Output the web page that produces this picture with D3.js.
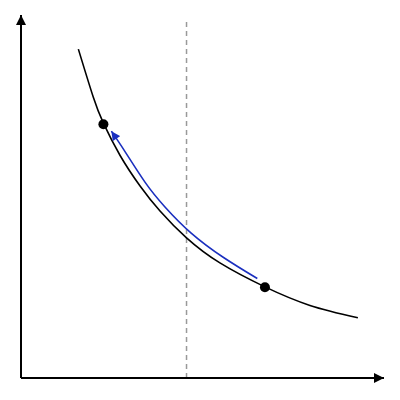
<!DOCTYPE html>
<html><head><meta charset="utf-8">
<script src="https://cdn.jsdelivr.net/npm/d3@7"></script>
<style>html,body{margin:0;padding:0;background:#fff;}</style>
</head><body>
<svg id="c" width="400" height="400"></svg>
<script>
// Curve (axis units 0..10)
const curveX = [1.58, 1.99, 2.27, 2.73, 3.28, 3.83, 4.56, 5.48, 6.72, 7.96, 9.28];
const curveY = [9.06, 7.74, 7.02, 6.13, 5.29, 4.60, 3.86, 3.17, 2.51, 2.00, 1.66];
// Blue movement arrow (from lower point toward upper point)
const moveX = [6.51, 5.58, 4.68, 3.96, 3.42, 2.87, 2.49];
const moveY = [2.74, 3.32, 4.00, 4.72, 5.39, 6.23, 6.80];
// Highlighted points
const pointX = [2.27, 6.72];
const pointY = [6.99, 2.50];
// Dashed reference line
const refX = [4.56];
const refTop = [9.82];
const axisMax = [10];

const svg = d3.select('#c');
const x = d3.scaleLinear().domain([0, axisMax[0]]).range([21, 384]);
const y = d3.scaleLinear().domain([0, axisMax[0]]).range([378, 15]);

const defs = svg.append('defs');
defs.append('marker').attr('id','ah').attr('viewBox','0 0 10 10')
  .attr('refX',10).attr('refY',5).attr('markerWidth',10).attr('markerHeight',10)
  .attr('markerUnits','userSpaceOnUse').attr('orient','auto')
  .append('path').attr('d','M0,0L10,5L0,10Z').attr('fill','#000');
defs.append('marker').attr('id','bh').attr('viewBox','0 0 10 10')
  .attr('refX',10).attr('refY',5).attr('markerWidth',10).attr('markerHeight',9)
  .attr('markerUnits','userSpaceOnUse').attr('orient','auto')
  .append('path').attr('d','M0,0L10,5L0,10Z').attr('fill','#1a2fbf');

// dashed line
svg.append('line')
  .attr('x1', x(refX[0])).attr('x2', x(refX[0]))
  .attr('y1', y(0)).attr('y2', y(refTop[0]))
  .attr('stroke','#999').attr('stroke-width',1.5).attr('stroke-dasharray','5,4');

// axes
svg.append('line').attr('x1',x(0)).attr('y1',y(0)).attr('x2',x(0)).attr('y2',y(axisMax[0]))
  .attr('stroke','#000').attr('stroke-width',2).attr('marker-end','url(#ah)');
svg.append('line').attr('x1',x(0)).attr('y1',y(0)).attr('x2',x(axisMax[0])).attr('y2',y(0))
  .attr('stroke','#000').attr('stroke-width',2).attr('marker-end','url(#ah)');

const line = d3.line().x(d=>x(d[0])).y(d=>y(d[1])).curve(d3.curveNatural);

svg.append('path').datum(curveX.map((v,i)=>[v,curveY[i]]))
  .attr('d', line).attr('fill','none').attr('stroke','#000').attr('stroke-width',1.6);

svg.append('path').datum(moveX.map((v,i)=>[v,moveY[i]]))
  .attr('d', line).attr('fill','none').attr('stroke','#1a2fbf').attr('stroke-width',1.6)
  .attr('marker-end','url(#bh)');

svg.selectAll('circle.pt').data(pointX.map((v,i)=>[v,pointY[i]])).join('circle')
  .attr('class','pt').attr('cx',d=>x(d[0])).attr('cy',d=>y(d[1])).attr('r',5).attr('fill','#000');
</script>
</body></html>
